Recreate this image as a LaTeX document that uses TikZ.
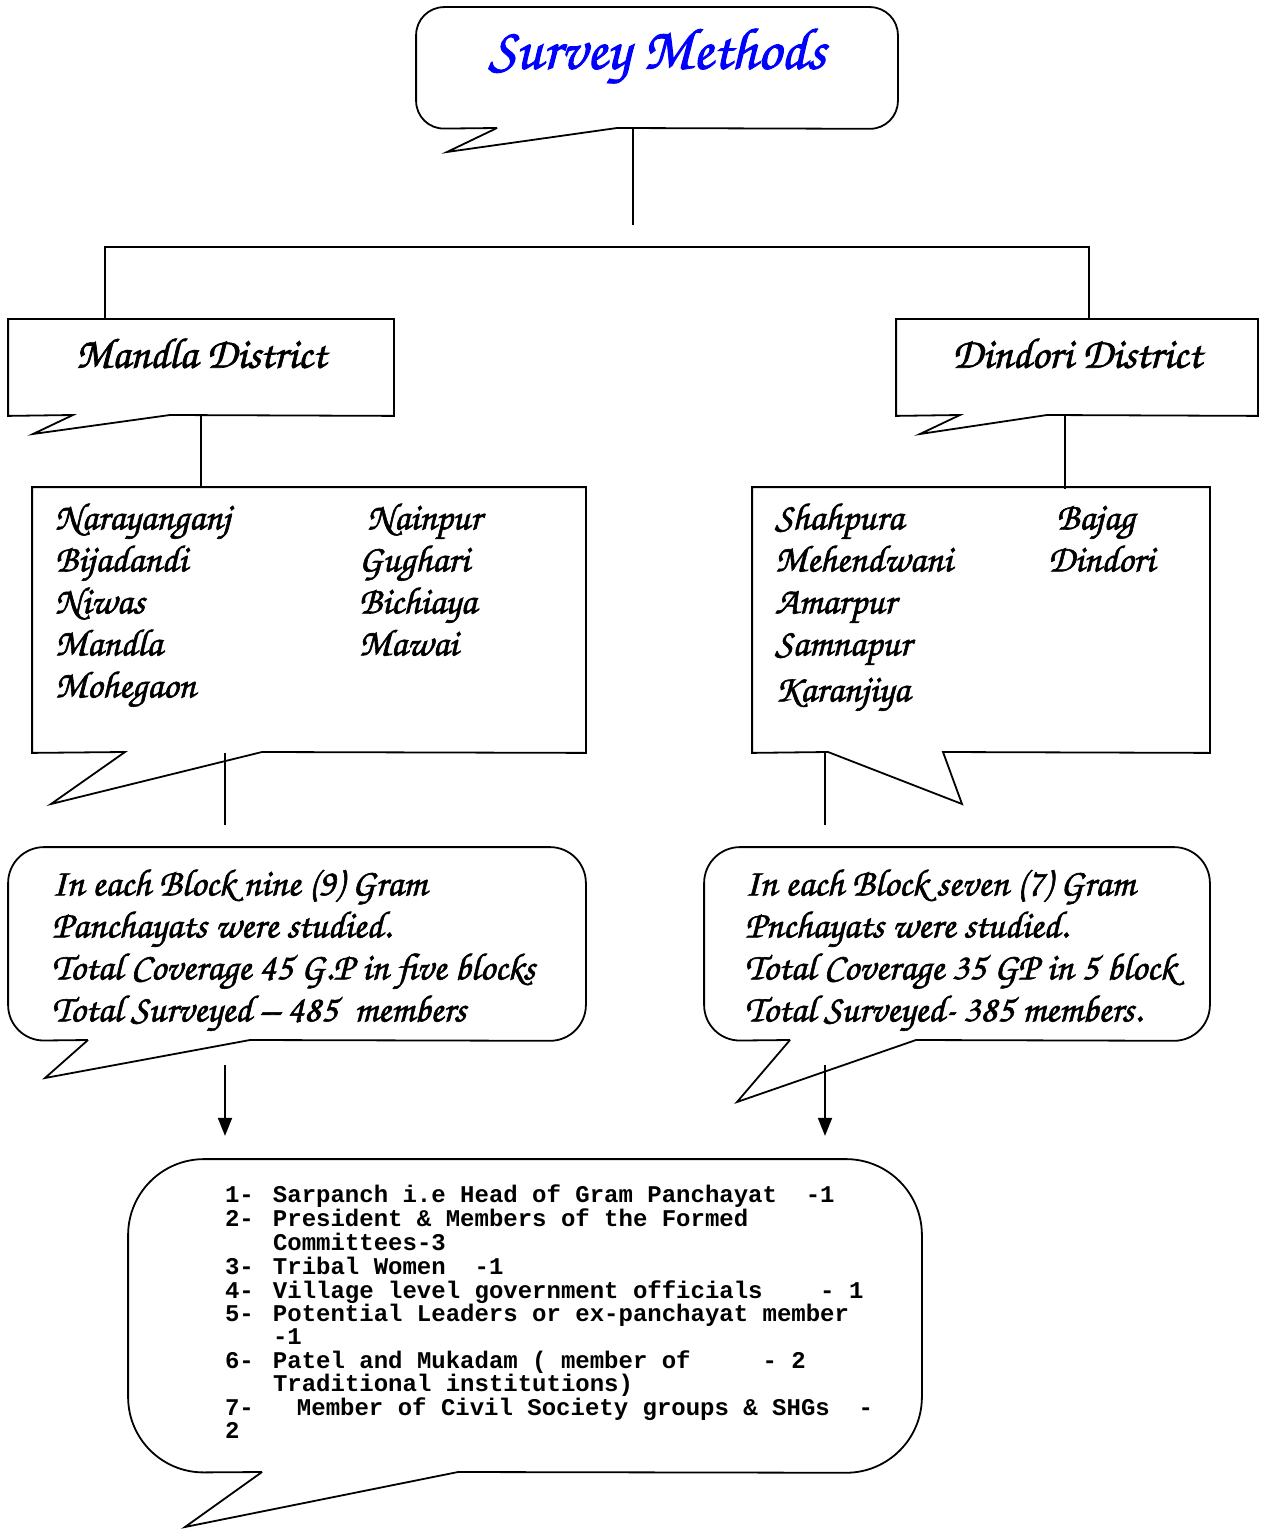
\documentclass[tikz,border=0pt]{standalone}
\usepackage{fontspec}
\usepackage{tikz}
\usetikzlibrary{positioning}
\usetikzlibrary{arrows.meta}
\newfontfamily\corsiva{TeX Gyre Chorus}[FakeBold=1.6]
\newfontfamily\courierb{Liberation Mono}

\begin{document}
\begin{tikzpicture} [x=0.5pt, y=-0.5pt, line width=0.9pt, >={Triangle[length=9pt,width=7pt]},
        frame/.style = {inner sep=0pt},
        hand/.style = {font=\corsiva\fontsize{19}{21}\selectfont, inner sep=0pt},
        head/.style = {font=\corsiva\fontsize{21.5}{24}\selectfont},
        typed/.style = {font=\courierb\bfseries\fontsize{12}{10.5}\selectfont, inner sep=0pt}]
        \useasboundingbox (0,0) rectangle (1262,1529);

        %Kaesten
        \node[frame, minimum width=240pt, minimum height=60pt] (title) at (657,68) {};
        \node[font=\corsiva\fontsize{29.5}{32}\selectfont, text=blue] (titletext) at ([yshift=6pt]title.center) {Survey Methods};

        \node[frame, minimum width=192pt, minimum height=47.5pt] (mandla) at (201,367.5) {};
        \node[head] (mandlatext) at ([yshift=7pt]mandla.center) {Mandla District};
        \node[frame, minimum width=180pt, minimum height=47.5pt] (dindori) at (1077,367.5) {};
        \node[head] (dindoritext) at ([yshift=7pt]dindori.center) {Dindori District};

        \node[frame, minimum width=276pt, minimum height=132pt] (mblocks) at (309,620) {};
        \node[hand, below right=6pt and 11pt of mblocks.north west] (mlist) {\begin{tabular}{@{}p{152pt}@{}l@{}}
            Narayanganj & \ Nainpur\\
            Bijadandi & Gughari\\
            Niwas & Bichiaya\\
            Mandla & Mawai\\
            Mohegaon &
        \end{tabular}};
        \node[frame, minimum width=228pt, minimum height=132pt] (dblocks) at (981,620) {};
        \node[hand, below right=6pt and 11pt of dblocks.north west] (dlist) {\begin{tabular}{@{}p{136.5pt}@{}l@{}}
            Shahpura & \ Bajag\\
            Mehendwani & Dindori\\
            Amarpur &\\
            Samnapur &\\[2pt]
            Karanjiya &
        \end{tabular}};

        \node[frame, minimum width=288pt, minimum height=96pt] (mnote) at (297,944) {};
        \node[hand, below right=9pt and 21.5pt of mnote.north west] (mnotetext) {\begin{tabular}{@{}l@{}}
            In each Block nine (9) Gram\\
            Panchayats were studied.\\
            Total Coverage 45 G.P in five blocks\\
            Total Surveyed – 485\ \ members
        \end{tabular}};
        \node[frame, minimum width=252pt, minimum height=96pt] (dnote) at (957,944) {};
        \node[hand, below right=9pt and 20pt of dnote.north west] (dnotetext) {\begin{tabular}{@{}l@{}}
            In each Block seven (7) Gram\\
            Pnchayats were studied.\\
            Total Coverage 35 GP in 5 block\\
            Total Surveyed- 385 members.
        \end{tabular}};

        \node[frame, minimum width=396pt, minimum height=156pt] (members) at (525,1316) {};
        \node[typed, below right=12.5pt and 48pt of members.north west] (memberlist) {\begin{tabular}{@{}p{24pt}@{}l@{}}
            1- & Sarpanch i.e Head of Gram Panchayat\ \ -1\\
            2- & President \& Members of the Formed\\
               & Committees-3\\
            3- & Tribal Women\ \ -1\\
            4- & Village level government officials\ \ \ \ - 1\\
            5- & Potential Leaders or ex-panchayat member\\
               & -1\\
            6- & Patel and Mukadam ( member of\ \ \ \ \ - 2\\
               & Traditional institutions)\\
            7- & \hspace*{12pt}Member of Civil Society groups \& SHGs\ \ -\\
            2  &
        \end{tabular}};

        %Umrisse
        \draw[rounded corners=14pt] (617,128) -- (title.south east) -- (title.north east) -- (title.north west) -- (title.south west) -- (497,128);
        \draw (497,128) -- (447,152) -- (617,128);

        \draw (mandla.south west) -- (mandla.north west) -- (mandla.north east) -- (mandla.south east) -- (170,415) -- (33,434) -- (73,415) -- cycle;
        \draw (dindori.south west) -- (dindori.north west) -- (dindori.north east) -- (dindori.south east) -- (1047,415) -- (920,434) -- (960,415) -- cycle;

        \draw (mblocks.south west) -- (mblocks.north west) -- (mblocks.north east) -- (mblocks.south east) -- (262,752) -- (51,804) -- (125,752) -- cycle;
        \draw (dblocks.south west) -- (dblocks.north west) -- (dblocks.north east) -- (dblocks.south east) -- (943,752) -- (962,804) -- (828,752) -- cycle;

        \draw[rounded corners=18pt] (250,1040) -- (mnote.south east) -- (mnote.north east) -- (mnote.north west) -- (mnote.south west) -- (88,1040);
        \draw (88,1040) -- (45,1078) -- (250,1040);
        \draw[rounded corners=18pt] (916,1040) -- (dnote.south east) -- (dnote.north east) -- (dnote.north west) -- (dnote.south west) -- (790,1040);
        \draw (790,1040) -- (737,1102) -- (916,1040);

        \draw[rounded corners=38pt] (458,1472) -- (members.south east) -- (members.north east) -- (members.north west) -- (members.south west) -- (262,1472);
        \draw (262,1472) -- (185,1527) -- (458,1472);

        %Linien
        \draw ([xshift=-12pt]title.south) -- ++(0,96);
        \draw ([xshift=-48pt]mandla.north) -- ++(0,-72) -| ([xshift=6pt]dindori.north);
        \draw (mandla.south) -- (mandla.south |- mblocks.north);
        \draw ([xshift=-6pt]dindori.south) -- ++(0,73);
        \draw ([xshift=-42pt]mblocks.south) -- ++(0,72);
        \draw ([xshift=-78pt]dblocks.south) -- ++(0,72);
        \draw[->] ([xshift=-36pt, yshift=-12pt]mnote.south) -- ++(0,71);
        \draw[->] ([xshift=-66pt, yshift=-12pt]dnote.south) -- ++(0,71);

\end{tikzpicture}
\end{document}
